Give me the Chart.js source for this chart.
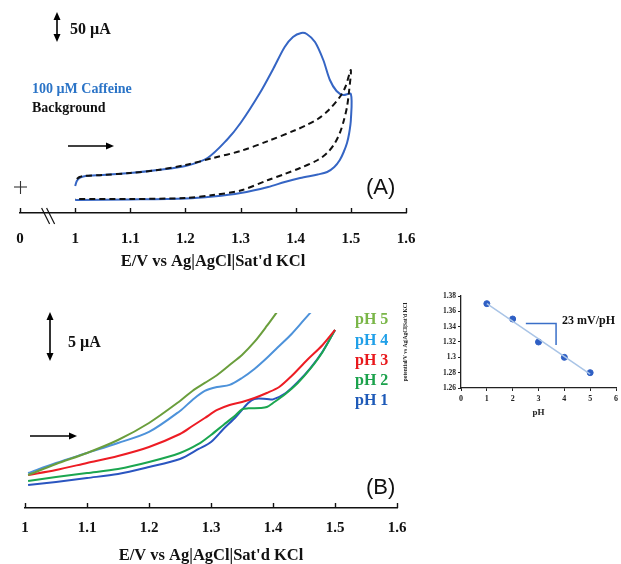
<!DOCTYPE html>
<html><head><meta charset="utf-8">
<script src="https://cdn.jsdelivr.net/npm/chart.js@4.4.1/dist/chart.umd.min.js"></script>
<style>
html,body{margin:0;padding:0;background:#fff;overflow:hidden;}
#wrap{position:relative;width:621px;height:564px;background:#fff;overflow:hidden;}
canvas{position:absolute;}
.t{position:absolute;font-family:"Liberation Serif","Times New Roman",serif;font-weight:bold;white-space:nowrap;}
.lab{position:absolute;font-family:"Liberation Sans",Arial,sans-serif;white-space:nowrap;color:#111;}
svg{position:absolute;left:0;top:0;}
</style></head>
<body><div id="wrap">
<canvas id="chartA" width="430" height="273" style="left:0;top:0"></canvas>
<canvas id="chartB" width="420" height="253" style="left:0;top:313px"></canvas>
<canvas id="chartC" width="226" height="135" style="left:395px;top:285px"></canvas>

<svg width="621" height="564" viewBox="0 0 621 564">
  <g stroke="#000" stroke-width="1.6" fill="#000">
    <line x1="57" y1="18" x2="57" y2="36"/>
    <polygon points="57,12 53.5,20 60.5,20" stroke="none"/>
    <polygon points="57,42 53.5,34 60.5,34" stroke="none"/>
    <line x1="68" y1="146" x2="107" y2="146"/>
    <polygon points="114,146 106,142.5 106,149.5" stroke="none"/>
    <line x1="50" y1="318" x2="50" y2="356"/>
    <polygon points="50,312 46.5,320 53.5,320" stroke="none"/>
    <polygon points="50,361 46.5,353 53.5,353" stroke="none"/>
    <line x1="30" y1="436" x2="70" y2="436"/>
    <polygon points="77,436 69,432.5 69,439.5" stroke="none"/>
  </g>
  <g stroke="#333" stroke-width="1.1">
    <line x1="14" y1="187" x2="27" y2="187"/>
    <line x1="20.5" y1="181" x2="20.5" y2="194"/>
  </g>
</svg>

<div class="t" style="left:70px;top:21px;font-size:16px;line-height:16px;color:#111">50 µA</div>
<div class="t" style="left:32px;top:82px;font-size:14px;line-height:14px;color:#2B74C7">100 µM Caffeine</div>
<div class="t" style="left:32px;top:101px;font-size:14px;line-height:14px;color:#111">Background</div>
<div class="lab" style="left:366px;top:176px;font-size:22px;line-height:22px">(A)</div>

<div class="t" style="left:68px;top:334px;font-size:16px;line-height:16px;color:#111">5 µA</div>
<div class="t" style="left:355px;top:311px;font-size:16px;line-height:16px;color:#7AB648">pH 5</div>
<div class="t" style="left:355px;top:332px;font-size:16px;line-height:16px;color:#20A0E8">pH 4</div>
<div class="t" style="left:355px;top:352px;font-size:16px;line-height:16px;color:#E8191C">pH 3</div>
<div class="t" style="left:355px;top:372px;font-size:16px;line-height:16px;color:#1BA24C">pH 2</div>
<div class="t" style="left:355px;top:392px;font-size:16px;line-height:16px;color:#1E5AB8">pH 1</div>
<div class="lab" style="left:366px;top:476px;font-size:22px;line-height:22px">(B)</div>

<div class="t" style="left:562px;top:314px;font-size:12px;line-height:12px;color:#111">23 mV/pH</div>
</div>
<script>
// ---------- Panel A data (cyclic voltammograms) ----------
const axisTitle = "E/V vs Ag|AgCl|Sat'd KCl";
const tickValuesA = [0.9, 1.0, 1.1, 1.2, 1.3, 1.4, 1.5, 1.6];
const tickLabelsA = ['0', '1', '1.1', '1.2', '1.3', '1.4', '1.5', '1.6'];
const caffeineE = [1.0,1.003,1.008,1.015,1.05,1.1,1.15,1.2,1.24,1.275,1.3,1.335,1.36,1.38,1.395,1.41,1.42,1.435,1.45,1.462,1.474,1.486,1.5,
                   1.5,1.497,1.493,1.487,1.48,1.47,1.457,1.44,1.408,1.38,1.35,1.3,1.25,1.2,1.1,1.0];
const caffeineI = [54,64,70,73,76,80,86,94,110,146,180,240,290,332,352,360,358,342,306,266,244,236,238,
                   186,160,140,122,106,92,82,77,70,62,52,40,33,29,27,26];
const backgroundE = [1.003,1.008,1.015,1.05,1.1,1.15,1.2,1.25,1.3,1.35,1.4,1.42,1.44,1.46,1.48,1.49,1.5,
                     1.497,1.493,1.487,1.48,1.47,1.457,1.44,1.408,1.38,1.35,1.3,1.25,1.2,1.1,1.0];
const backgroundI = [68,72,74,76,80,86,96,110,124,144,166,176,188,206,232,252,286,
                     246,212,184,160,138,120,106,90,78,66,45,36,30,28,28];

// ---------- Panel B data (pH series) ----------
const tickValuesB = [1.0, 1.1, 1.2, 1.3, 1.4, 1.5, 1.6];
const tickLabelsB = ['1', '1.1', '1.2', '1.3', '1.4', '1.5', '1.6'];
const pH1E = [1.005,1.05,1.1,1.15,1.2,1.25,1.28,1.3,1.32,1.34,1.36,1.37,1.39,1.40,1.42,1.44,1.46,1.48,1.5];
const pH1I = [2.45,2.77,3.19,3.62,4.36,5.21,6.28,7.02,8.40,9.68,11.17,11.60,11.60,11.55,12.20,13.40,14.85,16.65,18.94];
const pH2E = [1.005,1.05,1.1,1.15,1.2,1.25,1.28,1.3,1.32,1.34,1.35,1.36,1.38,1.39,1.40,1.42,1.44,1.46,1.48,1.5];
const pH2I = [2.87,3.30,3.72,4.15,4.89,5.85,6.81,7.77,8.83,9.89,10.50,10.60,10.64,10.74,11.17,12.13,13.30,14.79,16.60,18.94];
const pH3E = [1.005,1.05,1.1,1.15,1.2,1.25,1.27,1.29,1.31,1.33,1.35,1.37,1.39,1.41,1.43,1.455,1.48,1.5];
const pH3I = [3.51,4.04,4.79,5.53,6.49,7.87,8.72,9.57,10.43,10.96,11.28,11.70,12.23,12.87,14.04,15.74,17.34,18.94];
const pH4E = [1.005,1.05,1.1,1.15,1.2,1.25,1.27,1.29,1.31,1.33,1.35,1.37,1.39,1.41,1.43,1.45,1.47];
const pH4I = [3.72,4.79,5.85,6.91,8.09,10.32,11.49,12.45,12.87,13.09,13.83,14.79,15.96,17.23,18.51,20.0,21.49];
const pH5E = [1.005,1.05,1.1,1.15,1.2,1.25,1.27,1.29,1.31,1.33,1.35,1.37,1.39,1.41];
const pH5I = [3.51,4.68,5.85,7.23,9.04,11.38,12.45,13.30,14.15,15.21,16.28,17.66,19.36,21.17];

// ---------- Inset data (peak potential vs pH) ----------
const insetPH = [1, 2, 3, 4, 5];
const insetPotential = [1.37, 1.35, 1.32, 1.30, 1.28];
const trendPH = [1, 5];
const trendPotential = [1.370, 1.278];
const slopeMarkPH = [2.51, 3.68, 3.68];
const slopeMarkPotential = [1.344, 1.344, 1.316];
const insetXTicks = [0, 1, 2, 3, 4, 5, 6];
const insetYTicks = [1.26, 1.28, 1.30, 1.32, 1.34, 1.36, 1.38];
const insetYLabels = ['1.26', '1.28', '1.3', '1.32', '1.34', '1.36', '1.38'];

const pts = (xs, ys) => xs.map((x, i) => ({x: x, y: ys[i]}));
const serif = 'Liberation Serif';

const upTicks = {
  id: 'upTicks',
  afterDraw(chart, args, opts) {
    if (!opts || !opts.len) return;
    const s = chart.scales.x, ctx = chart.ctx, y0 = chart.chartArea.bottom;
    ctx.save();
    ctx.strokeStyle = '#111'; ctx.lineWidth = 1.4;
    s.ticks.forEach(t => {
      const x = Math.round(s.getPixelForValue(t.value)) + 0.5;
      ctx.beginPath(); ctx.moveTo(x, y0); ctx.lineTo(x, y0 - opts.len); ctx.stroke();
    });
    if (opts.breakAt != null) {
      const x = s.getPixelForValue(opts.breakAt);
      ctx.lineWidth = 1.2;
      [[-6, 2], [-1, 7]].forEach(([a, b]) => {
        ctx.beginPath(); ctx.moveTo(x + a, y0 - 5); ctx.lineTo(x + b, y0 + 11); ctx.stroke();
      });
    }
    ctx.restore();
  }
};
Chart.register(upTicks);

function xAxis(min, max, vals, labels, height, pad, labSize, titleSize, titlePadB) {
  return {
    type: 'linear', min: min, max: max,
    afterBuildTicks: s => { s.ticks = vals.map(v => ({value: v})); },
    afterFit: s => { s.height = height; },
    ticks: {
      callback: v => labels[vals.indexOf(v)],
      font: {family: serif, weight: 'bold', size: labSize}, color: '#111',
      padding: pad, maxRotation: 0, autoSkip: false
    },
    grid: {display: false},
    border: {display: true, color: '#111', width: 1.5},
    title: {display: true, text: axisTitle, color: '#111',
      font: {family: serif, weight: 'bold', size: titleSize}, padding: {top: 0, bottom: titlePadB}}
  };
}

const common = {
  responsive: false, animation: false, devicePixelRatio: 1,
  plugins: {legend: {display: false}, tooltip: {enabled: false}},
  elements: {point: {radius: 0}}
};

new Chart(document.getElementById('chartA'), {
  type: 'scatter',
  data: {datasets: [
    {data: pts(backgroundE, backgroundI), showLine: true, borderColor: '#111', borderWidth: 2, borderDash: [6, 4], tension: 0.3, pointRadius: 0},
    {data: pts(caffeineE, caffeineI), showLine: true, borderColor: '#3565C4', borderWidth: 2, tension: 0.3, pointRadius: 0}
  ]},
  options: Object.assign({}, common, {
    layout: {padding: {left: 20, right: 24, top: 0, bottom: 0}},
    plugins: {legend: {display: false}, tooltip: {enabled: false}, upTicks: {len: 5, breakAt: 0.95}},
    scales: {
      x: xAxis(0.9, 1.6, tickValuesA, tickLabelsA, 60, 9, 15, 16.5, 1),
      y: {display: false, min: 0, max: 426}
    }
  })
});

const phColors = ['#2A55C0', '#1BA650', '#ED1C24', '#4D92DA', '#6A9E3C'];
new Chart(document.getElementById('chartB'), {
  type: 'scatter',
  data: {datasets: [
    {data: pts(pH5E, pH5I), borderColor: phColors[4]},
    {data: pts(pH4E, pH4I), borderColor: phColors[3]},
    {data: pts(pH3E, pH3I), borderColor: phColors[2]},
    {data: pts(pH2E, pH2I), borderColor: phColors[1]},
    {data: pts(pH1E, pH1I), borderColor: phColors[0]}
  ].map(d => Object.assign(d, {showLine: true, borderWidth: 2, tension: 0.3, pointRadius: 0}))},
  options: Object.assign({}, common, {
    layout: {padding: {left: 25, right: 23, top: 0, bottom: 0}},
    plugins: {legend: {display: false}, tooltip: {enabled: false}, upTicks: {len: 5}},
    scales: {
      x: xAxis(1.0, 1.6, tickValuesB, tickLabelsB, 58, 3, 15, 16.5, 0),
      y: {display: false, min: 0, max: 20.74}
    }
  })
});

new Chart(document.getElementById('chartC'), {
  type: 'scatter',
  data: {datasets: [
    {data: pts(trendPH, trendPotential), showLine: true, borderColor: '#A9C4E6', borderWidth: 1.5, pointRadius: 0},
    {data: pts(slopeMarkPH, slopeMarkPotential), showLine: true, borderColor: '#3A6FC8', borderWidth: 1.5, pointRadius: 0},
    {data: pts(insetPH, insetPotential), showLine: false, pointRadius: 3, backgroundColor: '#2F5FC4', borderColor: '#2F5FC4'}
  ]},
  options: Object.assign({}, common, {
    layout: {padding: {left: 0, right: 3, top: 11, bottom: 0}},
    scales: {
      x: {
        type: 'linear', min: 0, max: 6,
        afterBuildTicks: s => { s.ticks = insetXTicks.map(v => ({value: v})); },
        afterFit: s => { s.height = 32; },
        ticks: {font: {family: serif, weight: 'bold', size: 8}, color: '#222', padding: 3, maxRotation: 0, autoSkip: false},
        grid: {display: true, drawOnChartArea: false, drawTicks: true, tickLength: 3, color: '#222'},
        border: {display: true, color: '#222', width: 1.3},
        title: {display: true, text: 'pH', color: '#222', font: {family: serif, weight: 'bold', size: 9}, padding: {top: 0, bottom: 2}}
      },
      y: {
        type: 'linear', min: 1.26, max: 1.38,
        afterBuildTicks: s => { s.ticks = insetYTicks.map(v => ({value: v})); },
        afterFit: s => { s.width = 66; },
        ticks: {callback: v => insetYLabels[insetYTicks.indexOf(v)],
          font: {family: serif, weight: 'bold', size: 7.5}, color: '#222', padding: 2, autoSkip: false},
        grid: {display: true, drawOnChartArea: false, drawTicks: true, tickLength: 3, color: '#222'},
        border: {display: true, color: '#222', width: 1.3},
        title: {display: true, text: "potential/V vs Ag|AgCl|Sat'd KCl", color: '#222',
          font: {family: serif, weight: 'bold', size: 5.5}, padding: {top: 7, bottom: 0}}
      }
    }
  })
});
</script>
</body></html>
